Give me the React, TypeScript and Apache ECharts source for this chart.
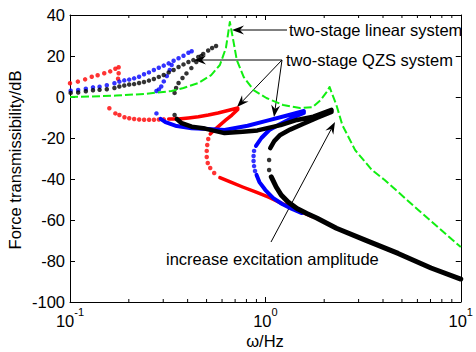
import React, { useEffect, useRef } from 'react';
import * as echarts from 'echarts';

const FONT = '"Liberation Sans", Arial, Helvetica, sans-serif';

// ---- axis values ----
const xMin = 0.1;
const xMax = 10;
const yMin = -100;
const yMax = 40;
const yStep = 20;
const xMinorTicks = [0.2, 0.3, 0.4, 0.5, 0.6, 0.7, 0.8, 0.9, 2, 3, 4, 5, 6, 7, 8, 9];

// ---- two-stage linear system (green dashed) [Hz, dB] ----
const greenLinear = [
  [0.1, 0], [0.126, 0.2], [0.1725, 0.7], [0.2395, 1.5], [0.331, 2.9], [0.381, 4.4],
  [0.454, 6.8], [0.528, 10.7], [0.585, 15.6], [0.628, 23.9], [0.658, 36.6], [0.674, 31.2],
  [0.689, 26.3], [0.714, 18.0], [0.774, 9.8], [0.87, 3.4], [1.012, -0.5], [1.233, -3.9],
  [1.503, -5.4], [1.748, -4.9], [1.918, -1.5], [2.057, 2.4], [2.13, 4.9], [2.206, 1.0],
  [2.31, -3.9], [2.477, -13.7], [2.88, -25.9], [3.511, -35.6], [4.08, -40.5], [6.06, -55.1],
  [10, -73.2],
];

// ---- QZS, smallest amplitude (red) ----
const redUpperDots = [
  [0.1, 6.7], [0.1097, 7.5], [0.1195, 8.6], [0.1292, 9.9], [0.1385, 10.6], [0.1497, 11.6],
  [0.1606, 12.5], [0.1707, 13.8], [0.1774, 14.5], [0.1774, 11.6], [0.1762, 8.9],
];
const redLowerDots = [
  [0.159, -5.5], [0.1707, -8.0], [0.179, -8.8], [0.19, -9.9], [0.201, -10.4], [0.213, -10.7],
  [0.226, -11.0], [0.2395, -11.1], [0.254, -11.1], [0.269, -11.1], [0.285, -11.0], [0.302, -10.9],
];
const redLowerLine = [
  [0.32, -10.7], [0.359, -10.7], [0.404, -10.2], [0.454, -9.6], [0.51, -8.8], [0.572, -7.8],
  [0.643, -6.6], [0.722, -5.4], [0.722, -6.1], [0.674, -8.8], [0.628, -11.2], [0.585, -13.7],
  [0.547, -16.1], [0.522, -18.0],
];
const redFoldDots = [
  [0.51, -20.5], [0.504, -23.4], [0.501, -26.3], [0.501, -29.3], [0.507, -32.2], [0.522, -34.6],
  [0.547, -37.1],
];
const redFoldLine = [
  [0.585, -39.3], [0.656, -41.3], [0.765, -43.9], [0.89, -46.3], [1.047, -49.0], [1.219, -52.0],
  [1.451, -55.1], [1.728, -58.3],
];

// ---- QZS, middle amplitude (blue) ----
const blueUpperDots = [
  [0.1008, 3.1], [0.1101, 3.4], [0.1205, 4.0], [0.1311, 4.7], [0.1417, 5.0], [0.1543, 5.7],
  [0.1688, 6.7], [0.1789, 7.5], [0.1896, 8.1], [0.2009, 8.5], [0.2129, 9.1], [0.2257, 9.9],
  [0.2392, 11.1], [0.2535, 12.0], [0.2687, 13.2], [0.2848, 14.3], [0.3018, 15.3], [0.3199, 16.4],
  [0.3391, 17.7], [0.3594, 18.9], [0.381, 20.1], [0.4037, 21.6], [0.4195, 22.3],
];
const blueJumpDots = [
  [0.3313, 15.6], [0.324, 13.2], [0.313, 10.2], [0.302, 7.6], [0.293, 5.1], [0.285, 3.7], [0.277, 2.9],
];
const blueStartDot = [[0.277, -8.0]];
const blueLowerLine = [
  [0.291, -10.7], [0.308, -12.3], [0.346, -14.0], [0.4195, -15.3], [0.51, -15.6], [0.618, -16.1],
  [0.811, -14.0], [1.023, -11.5], [1.292, -9.0], [1.574, -6.8], [1.574, -7.8], [1.369, -10.2],
  [1.191, -13.2], [1.047, -16.1], [0.954, -20.0], [0.895, -23.9],
];
const blueNoseDots = [[0.875, -26.3], [0.87, -28.8], [0.87, -31.2], [0.875, -33.7], [0.885, -36.1]];
const blueNoseLine = [
  [0.901, -38.0], [0.932, -41.5], [1.0, -45.4], [1.097, -49.3], [1.219, -52.2], [1.369, -54.6],
  [1.538, -56.6],
];

// ---- QZS, largest amplitude (black) ----
const blackUpperDots = [
  [0.1008, 2.0], [0.1101, 2.2], [0.1205, 2.8], [0.1311, 3.3], [0.1417, 3.5], [0.1543, 3.8],
  [0.1688, 4.4], [0.1789, 5.1], [0.1896, 5.6], [0.2009, 6.1], [0.2129, 6.3], [0.2257, 6.8],
  [0.2392, 7.3], [0.2535, 8.0], [0.2687, 8.8], [0.2848, 9.8], [0.3018, 10.7], [0.3199, 12.0],
  [0.3391, 13.2], [0.3594, 14.6], [0.381, 15.9], [0.4037, 17.1], [0.4279, 18.0], [0.4535, 19.5],
  [0.4807, 21.0], [0.5095, 22.7], [0.5338, 23.9], [0.5591, 24.9],
];
const blackJumpDots = [
  [0.4696, 20.0], [0.443, 17.1], [0.418, 14.1], [0.3945, 11.5], [0.3765, 9.3], [0.3594, 6.8],
  [0.3491, 4.4], [0.343, 2.0],
];
const blackStartDot = [[0.343, -8.8]];
const blackLowerLine = [
  [0.352, -10.7], [0.373, -12.8], [0.4195, -14.5], [0.491, -15.4], [0.618, -17.6], [0.765, -16.9],
  [0.911, -16.3], [1.196, -13.7], [1.451, -11.2], [1.76, -9.6], [2.18, -6.3], [2.18, -7.3],
  [1.831, -10.2], [1.556, -13.2], [1.338, -15.9], [1.191, -18.5], [1.11, -21.5], [1.059, -24.9],
];
const blackNoseDots = [[1.045, -30.7], [1.045, -35.6]];
const blackTailLine = [
  [1.072, -39.0], [1.136, -43.9], [1.205, -47.8], [1.307, -51.2], [1.451, -54.4], [1.63, -56.8],
  [1.831, -59.0], [2.31, -64.0], [3.247, -69.8], [4.78, -76.3], [7.045, -83.4], [10, -88.8],
];

const RED = '#ff0000';
const BLUE = '#0000ff';
const BLACK = '#000000';
const GREEN = '#11ee11';

function arrow(x1: number, y1: number, x2: number, y2: number, len = 12, half = 4.5, notch = 4) {
  const dx = x2 - x1;
  const dy = y2 - y1;
  const d = Math.hypot(dx, dy);
  const ux = dx / d;
  const uy = dy / d;
  const nx = -uy;
  const ny = ux;
  const bx = x2 - len * ux;
  const by = y2 - len * uy;
  const ix = x2 - (len - notch) * ux;
  const iy = y2 - (len - notch) * uy;
  return [
    { type: 'line', silent: true, shape: { x1, y1, x2: ix, y2: iy }, style: { stroke: '#000', lineWidth: 1 } },
    {
      type: 'polygon', silent: true,
      shape: { points: [[x2, y2], [bx + half * nx, by + half * ny], [ix, iy], [bx - half * nx, by - half * ny]] },
      style: { fill: '#000' },
    },
  ];
}

export default function App() {
  const ref = useRef<HTMLDivElement>(null);
  useEffect(() => {
    document.body.style.margin = '0';
    const chart = echarts.init(ref.current!, null, { renderer: 'svg' });

    const dots = (data: number[][], color: string, size = 4.5) => ({
      type: 'scatter', data, symbol: 'circle', symbolSize: size, silent: true,
      itemStyle: { color }, xAxisIndex: 0, yAxisIndex: 0,
    });
    const line = (data: number[][], color: string, width: number, dashed = false) => ({
      type: 'line', data, showSymbol: false, symbol: 'none', silent: true, smooth: false,
      xAxisIndex: 0, yAxisIndex: 0,
      lineStyle: { color, width, type: dashed ? [8, 3] : 'solid', cap: dashed ? 'butt' : 'round', join: 'round' },
    });

    const axisCommon = {
      axisLine: { show: true, onZero: false, lineStyle: { color: '#000', width: 1 } },
      axisTick: { show: true, inside: true, length: 5, lineStyle: { color: '#000', width: 1 } },
      splitLine: { show: false },
    };

    chart.setOption({
      animation: false,
      backgroundColor: '#fff',
      grid: { left: 70, right: 10, top: 15, bottom: 50, containLabel: false },
      xAxis: [
        {
          type: 'log', logBase: 10, min: xMin, max: xMax, position: 'bottom', ...axisCommon,
          axisLabel: {
            margin: 4,
            formatter: (v: number) => `{b|10}{s|${Math.round(Math.log10(v))}}`,
            rich: {
              b: { fontSize: 16.5, fontFamily: FONT, color: '#000', padding: [6, 0, 0, 0], verticalAlign: 'bottom' },
              s: { fontSize: 11, fontFamily: FONT, color: '#000', verticalAlign: 'top' },
            },
          },
        },
        { type: 'log', logBase: 10, min: xMin, max: xMax, position: 'top', ...axisCommon, axisLabel: { show: false } },
      ],
      yAxis: [
        {
          type: 'value', min: yMin, max: yMax, interval: yStep, position: 'left', ...axisCommon,
          axisLabel: { margin: 5, fontSize: 16.5, fontFamily: FONT, color: '#000' },
        },
        {
          type: 'value', min: yMin, max: yMax, interval: yStep, position: 'right', ...axisCommon,
          axisLabel: { show: false },
        },
      ],
      series: [
        line(greenLinear, GREEN, 2, true),
        dots(redUpperDots, RED),
        dots(redLowerDots, RED),
        line(redLowerLine, RED, 3.5),
        dots(redFoldDots, RED),
        line(redFoldLine, RED, 3.5),
        dots(blueUpperDots, BLUE),
        dots(blueJumpDots, BLUE),
        dots(blueStartDot, BLUE),
        line(blueLowerLine, BLUE, 4),
        dots(blueNoseDots, BLUE),
        line(blueNoseLine, BLUE, 4),
        dots(blackUpperDots, BLACK),
        dots(blackJumpDots, BLACK),
        dots(blackStartDot, BLACK),
        line(blackLowerLine, BLACK, 4.5),
        dots(blackNoseDots, BLACK),
        line(blackTailLine, BLACK, 5),
      ],
    });

    const px = (v: number) => chart.convertToPixel({ xAxisIndex: 0 }, v) as number;
    const yTop = chart.convertToPixel({ yAxisIndex: 0 }, yMax) as number;
    const yBot = chart.convertToPixel({ yAxisIndex: 0 }, yMin) as number;
    const minor: any[] = [];
    xMinorTicks.forEach((v) => {
      const x = px(v);
      minor.push({ type: 'line', silent: true, shape: { x1: x, y1: yBot, x2: x, y2: yBot - 3 }, style: { stroke: '#000', lineWidth: 1 } });
      minor.push({ type: 'line', silent: true, shape: { x1: x, y1: yTop, x2: x, y2: yTop + 3 }, style: { stroke: '#000', lineWidth: 1 } });
    });

    const txt = (text: string, x: number, y: number, align = 'left', rotation = 0) => ({
      type: 'text', silent: true, x, y, rotation,
      style: { text, fontSize: 16.5, fontFamily: FONT, fill: '#000', align, verticalAlign: 'middle' },
    });

    chart.setOption({
      graphic: [
        ...minor,
        txt('two-stage linear system', 289, 30),
        ...arrow(287, 30, 232, 30),
        txt('two-stage QZS system', 286, 60),
        ...arrow(282, 60, 194, 60),
        ...arrow(282, 60, 237, 107),
        ...arrow(282, 60, 274, 117),
        txt('increase excitation amplitude', 166, 259),
        ...arrow(271, 242, 335, 122),
        txt('Force transmissibility/dB', 15, 160, 'center', Math.PI / 2),
        txt('\u03c9/Hz', 265, 341, 'center'),
      ],
    });

    return () => chart.dispose();
  }, []);
  return <div ref={ref} style={{ position: 'fixed', left: 0, top: 0, width: 476, height: 352 }} />;
}
